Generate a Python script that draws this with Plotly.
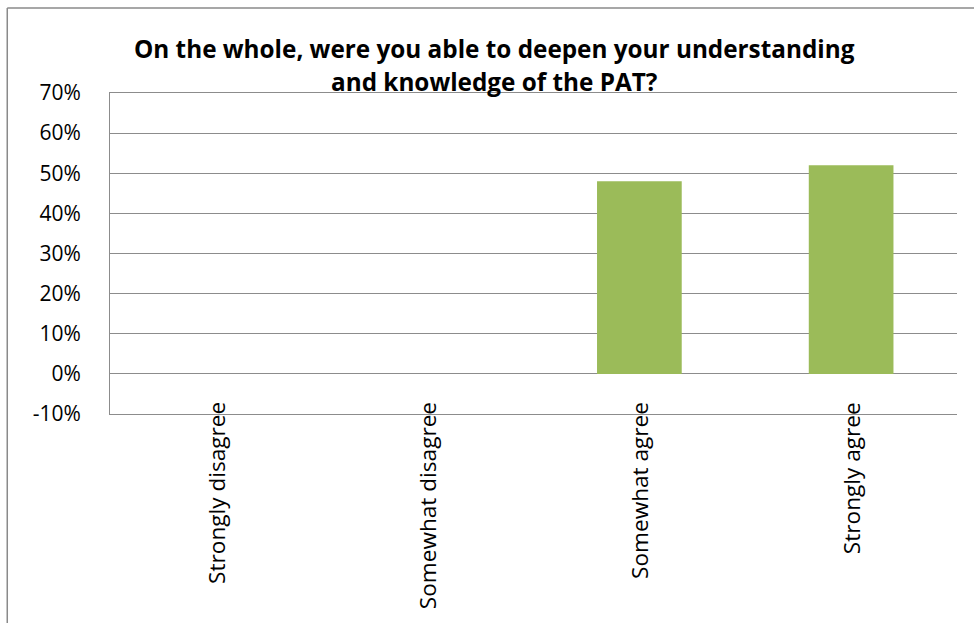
import plotly.graph_objects as go

# Survey responses
categories = ["Strongly disagree", "Somewhat disagree", "Somewhat agree", "Strongly agree"]
shares = [0.0, 0.0, 0.48, 0.52]
title_lines = [
    "On the whole, were you able to deepen your understanding",
    "and knowledge of the PAT?",
]
y_ticks = [-0.1, 0.0, 0.1, 0.2, 0.3, 0.4, 0.5, 0.6, 0.7]
y_tick_labels = ["-10%", "0%", "10%", "20%", "30%", "40%", "50%", "60%", "70%"]

FONT = "Open Sans"
GRID = "#8c8c8c"

fig = go.Figure(
    go.Bar(
        x=categories,
        y=shares,
        marker=dict(color="#9BBB59", line=dict(width=0)),
        hoverinfo="x+y",
    )
)

# Two-line bold title
for line, ypos in zip(title_lines, [1.14, 1.035]):
    fig.add_annotation(
        text=f"<b>{line}</b>",
        xref="paper", yref="paper",
        x=0.4545, y=ypos,
        xanchor="center", yanchor="middle",
        showarrow=False,
        font=dict(family=FONT, size=24.3, color="black"),
    )

# Vertical category labels under the plot
for cat in categories:
    fig.add_annotation(
        text=cat,
        x=cat, y=-0.1, xref="x", yref="y",
        xanchor="center", yanchor="top",
        yshift=14,
        textangle=-90,
        showarrow=False,
        font=dict(family=FONT, size=22.6, color="black"),
    )

# Outer chart frame (left and top edges)
fig.add_shape(type="line", xref="paper", yref="paper",
              x0=-0.1213, x1=-0.1213, y0=1.265, y1=-0.8,
              line=dict(color="#8a8a8a", width=1.5))
fig.add_shape(type="line", xref="paper", yref="paper",
              x0=-0.1213, x1=1.1, y0=1.265, y1=1.265,
              line=dict(color="#8a8a8a", width=1.5))

fig.update_layout(
    width=974, height=623,
    margin=dict(l=110, r=17, t=93, b=209),
    paper_bgcolor="white", plot_bgcolor="white",
    bargap=0.6,
    showlegend=False,
    font=dict(family=FONT, color="black"),
)
fig.update_xaxes(
    showticklabels=False,
    showgrid=False,
    showline=True, mirror=True, linecolor=GRID, linewidth=1,
    ticks="",
)
fig.update_yaxes(
    range=[-0.1, 0.7],
    tickvals=y_ticks,
    ticktext=y_tick_labels,
    showgrid=True, gridcolor=GRID, gridwidth=1,
    zeroline=False,
    showline=True, linecolor=GRID, linewidth=1,
    ticks="",
    ticklabelstandoff=24,
    tickfont=dict(family=FONT, size=21, color="black"),
)

fig.write_html("out.html")
